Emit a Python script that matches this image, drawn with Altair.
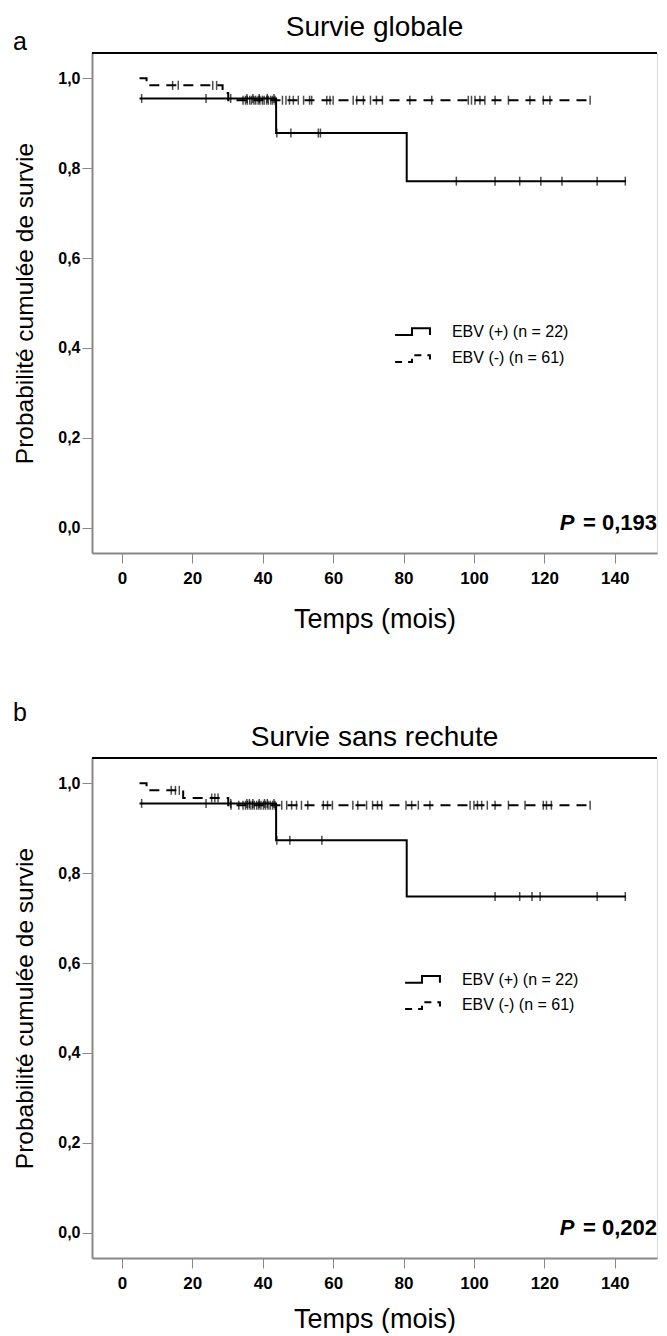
import altair as alt
import pandas as pd

FONT = "Liberation Sans"
PANEL_W = 565
PANEL_H = 500
X_DOMAIN = [-8.5, 152.0]
Y_DOMAIN = [-0.056, 1.056]

X_TICKS = [0, 20, 40, 60, 80, 100, 120, 140]
Y_TICKS = [0.0, 0.2, 0.4, 0.6, 0.8, 1.0]

# ---- Panel a : Survie globale ----
os_pos_times = [5.0, 43.8, 80.9]
os_pos_surv = [0.955, 0.878, 0.771]
os_pos_end = 143.2
os_pos_cens = [5.6, 23.9, 30.9, 35.5, 37.2, 39.0, 41.3, 43.2, 44.0, 48.0, 55.8, 56.4,
               95.0, 106.0, 113.0, 119.0, 125.0, 135.0, 143.0]

os_neg_times = [5.0, 7.0, 28.6, 30.2]
os_neg_surv = [1.0, 0.984, 0.967, 0.951]
os_neg_end = 133.8
os_neg_cens = [14.4, 16.0, 25.8, 26.9,
               34.4, 35.1, 35.6, 36.3, 36.8, 37.5, 38.0, 38.7, 39.2, 39.9, 40.4, 41.1,
               41.6, 42.3, 42.8, 43.5,
               45.6, 46.6, 47.6, 48.7, 50.1, 51.6, 53.3, 53.9, 58.2, 59.1, 60.0, 65.7,
               66.7, 68.6, 70.6, 72.3, 74.0, 81.8, 88.0, 98.4, 99.3, 100.3, 101.7, 103.1,
               106.0, 109.8, 115.9, 119.7, 121.6, 133.0]

# ---- Panel b : Survie sans rechute ----
rfs_pos_times = [5.0, 43.8, 80.9]
rfs_pos_surv = [0.955, 0.873, 0.748]
rfs_pos_end = 143.2
rfs_pos_cens = [5.6, 23.9, 30.9, 35.5, 36.2, 37.2, 39.0, 40.5, 41.3, 43.2, 44.0, 47.7, 56.8,
                106.0, 113.0, 116.5, 118.8, 135.0, 143.0]

rfs_neg_times = [5.0, 7.0, 17.4, 30.2]
rfs_neg_surv = [1.0, 0.984, 0.967, 0.951]
rfs_neg_end = 133.8
rfs_neg_cens = [14.0, 15.2, 16.3, 25.5, 26.4, 27.3,
                31.0, 33.2, 34.4, 35.1, 35.7, 36.4, 37.0, 37.6, 38.3, 38.9, 39.5, 40.2,
                40.8, 41.5, 42.1, 42.8, 43.5,
                45.4, 46.8, 48.2, 49.6, 51.0, 52.8, 57.2, 58.4, 59.8, 65.6, 67.0, 69.5,
                71.2, 72.6, 73.8, 80.7, 82.3, 84.2, 87.5, 98.9, 100.0, 101.0, 102.2, 103.8,
                106.0, 109.8, 114.5, 119.7, 120.6, 122.0, 133.0]

LEGEND_LABELS = ["EBV (+) (n = 22)", "EBV (-) (n = 61)"]
P_TEXTS = ["= 0,193", "= 0,202"]
TITLES = ["Survie globale", "Survie sans rechute"]
LETTERS = ["a", "b"]

# legend geometry (data units) per panel
leg_sym_x = [77.6, 82.4, 82.4, 87.5, 87.5]
leg_text_x = 93.75
leg_text_y_a = [0.436, 0.378]
leg_text_y_b = [0.563, 0.507]


def steps(times, surv, end):
    return pd.DataFrame({"t": list(times) + [end], "s": list(surv) + [surv[-1]]})


def censor(times, surv, cts):
    vals = []
    for c in cts:
        idx = max(i for i, tt in enumerate(times) if tt <= c)
        vals.append(surv[idx])
    return pd.DataFrame({"t": cts, "s": vals})


xs = alt.Scale(domain=X_DOMAIN, nice=False, zero=False)
ys = alt.Scale(domain=Y_DOMAIN, nice=False, zero=False)
yaxis = alt.Axis(values=Y_TICKS, labelExpr="replace(format(datum.value, '.1f'), '.', ',')",
                 title="Probabilité cumulée de survie", tickSize=10, labelPadding=2,
                 minExtent=50, maxExtent=50, titlePadding=5, labelFontSize=16,
                 labelFontWeight="bold", titleFontSize=24.5, titleFontWeight="normal",
                 grid=False, domainWidth=2, tickWidth=1)


def make_xaxis(title_pad):
    return alt.Axis(values=X_TICKS, title="Temps (mois)", tickSize=10, labelPadding=7,
                    titlePadding=title_pad, labelFontSize=17, labelFontWeight="bold",
                    titleFontSize=27, titleFontWeight="normal", grid=False,
                    domainWidth=2, tickWidth=1, labelFlush=False)


def panel(k, pos, neg, pos_c, neg_c, dx, leg_y, letter_y, title_offset, x_title_pad):
    xaxis = make_xaxis(x_title_pad)

    def enc(ch):
        return ch.encode(x=alt.X("t:Q", scale=xs, axis=xaxis),
                         y=alt.Y("s:Q", scale=ys, axis=yaxis))

    pos_df = steps(*pos)
    neg_df = steps(*neg)
    pc = censor(pos[0], pos[1], pos_c)
    nc = censor(neg[0], neg[1], neg_c)

    solid = enc(alt.Chart(pos_df).mark_line(interpolate="step-after", color="black",
                                            strokeWidth=2))
    dashed = enc(alt.Chart(neg_df).mark_line(interpolate="step-after", color="black",
                                             strokeWidth=2, strokeDash=[10, 7]))
    tick_p = enc(alt.Chart(pc).mark_tick(orient="vertical", size=9, thickness=1.5,
                                         color="black"))
    tick_n = enc(alt.Chart(nc).mark_tick(orient="vertical", size=9, thickness=1.5,
                                         color="black"))
    lx = [v + dx for v in leg_sym_x]
    py = [leg_y[0] - 0.007, leg_y[0] - 0.007, leg_y[0] + 0.008, leg_y[0] + 0.008,
          leg_y[0] - 0.007]
    ny = [leg_y[1] - 0.009, leg_y[1] - 0.009, leg_y[1] + 0.006, leg_y[1] + 0.006,
          leg_y[1] - 0.009]
    leg_p = enc(alt.Chart(pd.DataFrame({"t": lx, "s": py, "o": range(5)}))
                .mark_line(color="black", strokeWidth=2)).encode(order="o:O")
    leg_n = enc(alt.Chart(pd.DataFrame({"t": lx, "s": ny, "o": range(5)}))
                .mark_line(color="black", strokeWidth=2, strokeDash=[7, 6])).encode(order="o:O")
    leg_t = enc(alt.Chart(pd.DataFrame({"t": [leg_text_x + dx] * 2, "s": leg_y,
                                        "label": LEGEND_LABELS}))
                .mark_text(align="left", baseline="middle", fontSize=16, font=FONT,
                           color="black")).encode(text="label:N")
    p_eq = enc(alt.Chart(pd.DataFrame({"t": [152.0], "s": [-0.004], "label": [P_TEXTS[k]]}))
               .mark_text(align="right", baseline="alphabetic", fontSize=22,
                          fontWeight="bold", font=FONT, color="black")).encode(text="label:N")
    p_it = enc(alt.Chart(pd.DataFrame({"t": [124.4], "s": [-0.004], "label": ["P"]}))
               .mark_text(align="left", baseline="alphabetic", fontSize=22,
                          fontWeight="bold", fontStyle="italic", font=FONT,
                          color="black")).encode(text="label:N")
    let = enc(alt.Chart(pd.DataFrame({"t": [-29.0], "s": [letter_y], "label": [LETTERS[k]]}))
              .mark_text(align="center", baseline="middle", fontSize=25, font=FONT,
                         color="black")).encode(text="label:N")
    top = alt.Chart(pd.DataFrame({"t": [0]})).mark_rule(color="black", strokeWidth=2).encode(
        x=alt.value(0), x2=alt.value(PANEL_W), y=alt.value(0))

    return alt.layer(top, solid, dashed, tick_p, tick_n, leg_p, leg_n, leg_t, p_eq, p_it,
                     let).properties(
        width=PANEL_W, height=PANEL_H,
        title=alt.TitleParams(TITLES[k], fontSize=28, fontWeight="normal", font=FONT,
                              color="black", anchor="middle", offset=title_offset))


pa = panel(0, (os_pos_times, os_pos_surv, os_pos_end), (os_neg_times, os_neg_surv, os_neg_end),
           os_pos_cens, os_neg_cens, 0.0, leg_text_y_a, 1.0804, -12, 20)
pb = panel(1, (rfs_pos_times, rfs_pos_surv, rfs_pos_end),
           (rfs_neg_times, rfs_neg_surv, rfs_neg_end), rfs_pos_cens, rfs_neg_cens, 2.84,
           leg_text_y_b, 1.156, -51, 15)

chart = alt.vconcat(pa, pb, spacing=67).properties(
    padding={"left": 3, "top": 5, "right": 0, "bottom": 0}
).configure_view(stroke=None).configure_axis(
    labelFont=FONT, titleFont=FONT, labelColor="black", titleColor="black",
    domainColor="black", tickColor="black"
).configure(background="white")

chart.save("out.html", embed_options={"renderer": "svg", "actions": False})
